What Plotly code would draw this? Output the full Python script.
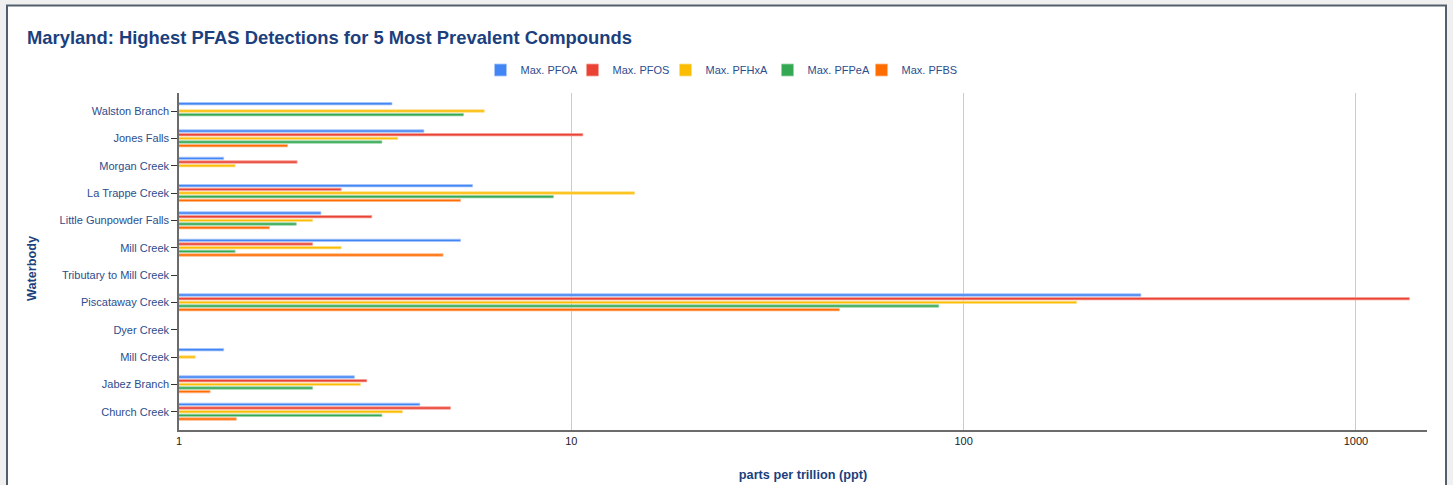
import plotly.graph_objects as go

# Waterbodies, listed top to bottom
waterbodies = [
    "Walston Branch", "Jones Falls", "Morgan Creek", "La Trappe Creek",
    "Little Gunpowder Falls", "Mill Creek", "Tributary to Mill Creek",
    "Piscataway Creek", "Dyer Creek", "Mill Creek", "Jabez Branch", "Church Creek",
]

# Highest detection per compound (ppt); None = no detection
max_pfoa  = [3.49, 4.21, 1.30, 5.60, 2.30, 5.22, None, 283, None, 1.30, 2.80, 4.11]
max_pfos  = [None, 10.7, 2.00, 2.59, 3.10, 2.19, None, 1368, None, None, 3.01, 4.92]
max_pfhxa = [6.00, 3.61, 1.39, 14.5, 2.19, 2.59, None, 194, None, 1.10, 2.90, 3.71]
max_pfpea = [5.31, 3.29, None, 9.00, 1.99, 1.39, None, 86.4, None, None, 2.19, 3.29]
max_pfbs  = [None, 1.89, None, 5.22, 1.70, 4.71, None, 48.2, None, None, 1.20, 1.40]

series_names = ["Max. PFOA", "Max. PFOS", "Max. PFHxA", "Max. PFPeA", "Max. PFBS"]
series_values = [max_pfoa, max_pfos, max_pfhxa, max_pfpea, max_pfbs]
series_colors = ["#4285F4", "#EA4335", "#FBBC04", "#34A853", "#FF6D01"]
halo_colors = ["#a8c6fa", "#f5a39b", "#fde08a", "#9ad4aa", "#ffb788"]
# legend entry widths (px); None = fit to text
legend_widths = [47, 48, 57, 49, None]

# Category slots (Mill Creek appears twice, so slots are positional)
y_pos = list(range(len(waterbodies)))
y_range = [11.67, -0.66]

W, H = 1453, 485
ML, MR, MT, MB = 179, 26, 93, 55
PW, PH = W - ML - MR, H - MT - MB

NAVY = "#1c3f7d"
LABEL = "#2d4d8c"
FONT = "Liberation Sans, Arial, Helvetica, sans-serif"

fig = go.Figure()
for name, vals, col, halo, lw in zip(series_names, series_values, series_colors,
                                     halo_colors, legend_widths):
    fig.add_trace(go.Bar(
        name=name, y=y_pos, x=vals, orientation="h",
        marker=dict(color=col, line=dict(color=halo, width=0.8)),
        legendwidth=lw,
    ))

# Pixel -> paper helpers
def px_x(p):
    return (p - ML) / PW

def px_y(p):
    return (H - MB - p) / PH

# Outer frame around the chart card
fig.add_shape(
    type="rect", xref="paper", yref="paper", layer="below",
    x0=px_x(7), x1=px_x(1446), y0=px_y(500), y1=px_y(5.5),
    fillcolor="white", line=dict(color="#52606d", width=2),
)

# Vertical axis title
fig.add_annotation(
    text="<b>Waterbody</b>", textangle=-90, showarrow=False,
    xref="paper", yref="paper", x=px_x(32), y=px_y(269),
    xanchor="center", yanchor="middle",
    font=dict(family=FONT, size=12.7, color=NAVY),
)

fig.update_layout(
    width=W, height=H,
    margin=dict(l=ML, r=MR, t=MT, b=MB, autoexpand=False),
    paper_bgcolor="#f0f0f0", plot_bgcolor="white",
    barmode="group", bargap=0.33, bargroupgap=0.35,
    font=dict(family=FONT, size=11, color=LABEL),
    title=dict(
        text="<b>Maryland: Highest PFAS Detections for 5 Most Prevalent Compounds</b>",
        font=dict(family=FONT, size=18.4, color=NAVY),
        xref="container", yref="container",
        x=27 / W, xanchor="left", y=1 - 38 / H, yanchor="middle",
    ),
    legend=dict(
        orientation="h", xref="container", yref="paper",
        x=0.5 - 5 / W, xanchor="center", y=px_y(70), yanchor="middle",
        font=dict(family=FONT, size=11, color=LABEL),
        itemwidth=30, traceorder="normal", bgcolor="rgba(0,0,0,0)",
    ),
    xaxis=dict(
        type="log", range=[0, 3.181], automargin=False,
        tickmode="array", tickvals=[1, 10, 100, 1000], ticktext=["1", "10", "100", "1000"],
        tickfont=dict(family=FONT, size=11, color="#222222"),
        showgrid=True, gridcolor="#cccccc", gridwidth=1,
        showline=True, linecolor="#6b6b6b", linewidth=1.5,
        ticks="", zeroline=False,
        title=dict(text="<b>parts per trillion (ppt)</b>",
                   font=dict(family=FONT, size=12.7, color=NAVY), standoff=24),
    ),
    yaxis=dict(
        tickmode="array", tickvals=y_pos, ticktext=waterbodies,
        range=y_range, automargin=False,
        tickfont=dict(family=FONT, size=11, color=LABEL),
        showgrid=False, zeroline=False,
        showline=True, linecolor="#6b6b6b", linewidth=1.5,
        ticks="outside", ticklen=6, tickcolor="#333333", tickwidth=1,
    ),
    # inner half of the category tick marks, so they cross the axis line
    yaxis2=dict(
        overlaying="y", anchor="x", side="left", range=y_range,
        tickmode="array", tickvals=y_pos, showticklabels=False,
        ticks="inside", ticklen=5, tickcolor="#333333", tickwidth=1,
        showgrid=False, zeroline=False, showline=False, automargin=False,
    ),
)

fig.write_html("out.html")
